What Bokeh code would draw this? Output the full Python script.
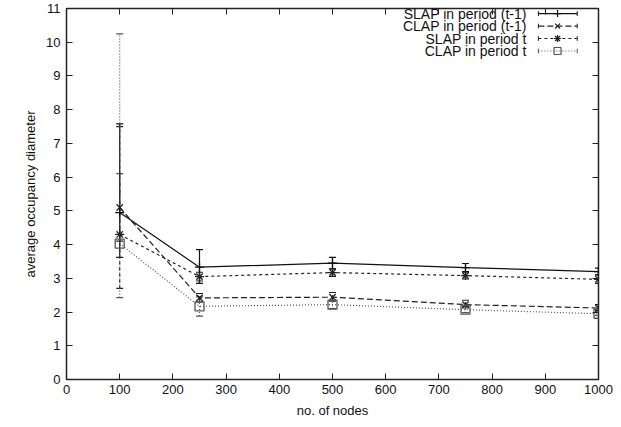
from bokeh.plotting import figure
from bokeh.models import ColumnDataSource, Whisker, LinearAxis, Range1d, TeeHead, FixedTicker
from bokeh.core.properties import value
from bokeh.embed import file_html
from bokeh.resources import INLINE

nodes = [100, 250, 500, 750, 1000]
names = ["SLAP in period (t-1)", "CLAP in period (t-1)", "SLAP in period t", "CLAP in period t"]
slap_prev = [4.95, 3.33, 3.45, 3.32, 3.20]
slap_prev_lo = [3.62, 2.85, 3.28, 3.20, 3.10]
slap_prev_hi = [7.58, 3.85, 3.62, 3.44, 3.30]
clap_prev = [5.10, 2.42, 2.44, 2.22, 2.12]
clap_prev_lo = [4.10, 2.30, 2.32, 2.12, 2.04]
clap_prev_hi = [6.10, 2.55, 2.58, 2.35, 2.22]
slap_t = [4.30, 3.05, 3.17, 3.08, 2.97]
slap_t_lo = [2.70, 2.92, 3.06, 2.98, 2.85]
slap_t_hi = [7.50, 3.18, 3.28, 3.18, 3.10]
clap_t = [4.03, 2.17, 2.22, 2.07, 1.95]
clap_t_lo = [2.43, 1.88, 2.10, 1.98, 1.90]
clap_t_hi = [10.25, 2.45, 2.35, 2.17, 2.02]
x_ticks = list(range(0, 1001, 100))
y_ticks = list(range(0, 12))

series = [
    (slap_prev, slap_prev_lo, slap_prev_hi),
    (clap_prev, clap_prev_lo, clap_prev_hi),
    (slap_t, slap_t_lo, slap_t_hi),
    (clap_t, clap_t_lo, clap_t_hi),
]
styles = [
    dict(color="#111111", dash="solid", marker="cross"),
    dict(color="#222222", dash="6 3", marker="x"),
    dict(color="#222222", dash="3 3", marker="asterisk"),
    dict(color="#555555", dash="1 2", marker="square"),
]

FONT = "Liberation Sans"
p = figure(width=621, height=427, output_backend="svg", toolbar_location=None,
           x_range=Range1d(0, 1000), y_range=Range1d(0, 11),
           min_border_left=66, min_border_right=23, min_border_top=8, min_border_bottom=48)
p.xgrid.visible = False
p.ygrid.visible = False
p.outline_line_color = "#222222"
p.outline_line_width = 1.5

for (ys, lo, hi), st in zip(series, styles):
    src = ColumnDataSource(dict(x=nodes, y=ys, lo=lo, hi=hi))
    p.line("x", "y", source=src, line_color=st["color"], line_dash=st["dash"], line_width=1.2)
    w = Whisker(base="x", lower="lo", upper="hi", source=src, line_color=st["color"],
                line_dash=st["dash"], line_width=1.2,
                upper_head=TeeHead(size=7, line_color=st["color"], line_width=1.2),
                lower_head=TeeHead(size=7, line_color=st["color"], line_width=1.2))
    p.add_layout(w)
    if st["marker"] == "square":
        p.scatter("x", "y", source=src, marker="square", size=9, fill_color=None,
                  line_color=st["color"], line_width=1.3)
    else:
        p.scatter("x", "y", source=src, marker=st["marker"], size=9,
                  line_color=st["color"], line_width=1.3)

# legend (gnuplot style: text right-aligned, sample on the right)
leg_y = [10.85, 10.48, 10.11, 9.74]
for name, st, ly in zip(names, styles, leg_y):
    p.text(x=[865], y=[ly], text=[name], text_align="right", text_baseline="middle",
           text_font=value(FONT), text_font_size="14px", text_color="#111111")
    p.line([887, 960], [ly, ly], line_color=st["color"], line_dash=st["dash"], line_width=1.2)
    p.segment(x0=[887, 960], y0=[ly - 0.07, ly - 0.07], x1=[887, 960], y1=[ly + 0.07, ly + 0.07],
              line_color=st["color"], line_width=1)
    if st["marker"] == "square":
        p.scatter([923], [ly], marker="square", size=7, fill_color=None, line_color=st["color"], line_width=1.2)
    else:
        p.scatter([923], [ly], marker=st["marker"], size=7, line_color=st["color"], line_width=1.2)

xt = FixedTicker(ticks=x_ticks)
yt = FixedTicker(ticks=y_ticks)
for ax in p.xaxis:
    ax.ticker = xt
for ax in p.yaxis:
    ax.ticker = yt

for ax in [p.xaxis[0], p.yaxis[0]]:
    ax.major_tick_in = 6
    ax.major_tick_out = 0
    ax.minor_tick_in = 0
    ax.minor_tick_out = 0
    ax.axis_line_color = None
    ax.major_tick_line_color = "#222222"
    ax.major_label_text_font = FONT
    ax.major_label_text_font_size = "13px"
    ax.major_label_text_color = "#111111"
    ax.axis_label_text_font = FONT
    ax.axis_label_text_font_size = "13px"
    ax.axis_label_text_font_style = "normal"
    ax.axis_label_text_color = "#111111"
p.xaxis[0].axis_label = "no. of nodes"
p.yaxis[0].axis_label = "average occupancy diameter"
p.xaxis[0].major_label_standoff = 5
p.xaxis[0].axis_label_standoff = 6
p.yaxis[0].major_label_standoff = 6

ax_top = LinearAxis(ticker=xt, major_label_overrides={t: "" for t in x_ticks},
                    major_tick_in=6, major_tick_out=0, major_label_standoff=0,
                    minor_tick_in=0, minor_tick_out=0, axis_line_color=None, major_tick_line_color="#222222")
ax_right = LinearAxis(ticker=yt, major_label_overrides={t: "" for t in y_ticks},
                      major_tick_in=6, major_tick_out=0, major_label_standoff=0,
                      minor_tick_in=0, minor_tick_out=0, axis_line_color=None, major_tick_line_color="#222222")
p.add_layout(ax_top, "above")
p.add_layout(ax_right, "right")

open("out.html", "w").write(file_html(p, INLINE))
